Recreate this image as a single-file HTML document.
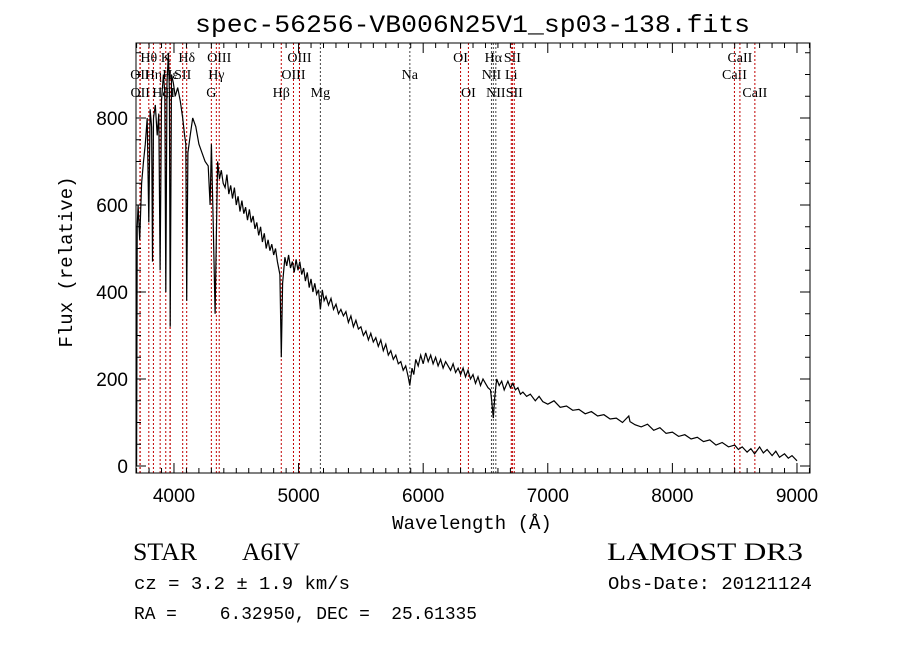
<!DOCTYPE html>
<html><head><meta charset="utf-8"><style>
body{margin:0;background:#fff;}
svg{display:block;}
text{font-family:"Liberation Sans",sans-serif;white-space:pre;}
.mono{font-family:"Liberation Mono",monospace;}
.serif{font-family:"Liberation Serif",serif;}
</style></head><body>
<svg id="chart" width="900" height="649" viewBox="0 0 900 649" xmlns="http://www.w3.org/2000/svg">
<rect width="900" height="649" fill="#fff"/>
<text x="195" y="32" textLength="555" lengthAdjust="spacingAndGlyphs" class="mono" font-size="25" fill="#000">spec-56256-VB006N25V1_sp03-138.fits</text>
<g id="lines"></g>
<g id="axes"></g>
<path id="spec" fill="none" stroke="#000" stroke-width="1.2"/>
<text x="472" y="529" text-anchor="middle" class="mono" font-size="19">Wavelength (Å)</text>
<text transform="translate(72,262) rotate(-90)" text-anchor="middle" class="mono" font-size="19">Flux (relative)</text>
<text x="133" y="560" textLength="64" lengthAdjust="spacingAndGlyphs" class="serif" font-size="25">STAR</text>
<text x="242" y="560" textLength="58" lengthAdjust="spacingAndGlyphs" class="serif" font-size="25">A6IV</text>
<text x="607" y="560" textLength="196" lengthAdjust="spacingAndGlyphs" class="serif" font-size="25">LAMOST DR3</text>
<text x="134" y="589" textLength="216" lengthAdjust="spacingAndGlyphs" class="mono" font-size="18">cz = 3.2 ± 1.9 km/s</text>
<text x="608" y="589" textLength="204" lengthAdjust="spacingAndGlyphs" class="mono" font-size="18">Obs-Date: 20121124</text>
<text x="134" y="619" textLength="343" lengthAdjust="spacingAndGlyphs" class="mono" font-size="18">RA =    6.32950, DEC =  25.61335</text>
</svg>
<script>
const waves=[3700,3705,3712,3725,3740,3755,3770,3785,3798,3808,3820,3828,3836,3850,3865,3878,3889,3900,3915,3926,3934,3944,3955,3963,3970,3980,3995,4010,4030,4050,4070,4085,4095,4102,4112,4130,4150,4175,4200,4225,4250,4275,4290,4300,4315,4330,4340,4350,4365,4380,4395,4410,4425,4440,4455,4470,4485,4500,4515,4530,4545,4560,4575,4590,4605,4620,4635,4650,4665,4680,4695,4710,4725,4740,4755,4770,4785,4800,4815,4830,4850,4861,4872,4890,4905,4920,4935,4950,4965,4980,4995,5010,5025,5040,5055,5070,5085,5100,5115,5130,5145,5160,5175,5190,5205,5220,5240,5260,5280,5300,5320,5340,5360,5380,5400,5420,5440,5460,5480,5500,5520,5540,5560,5580,5600,5620,5640,5660,5680,5700,5720,5740,5760,5780,5800,5820,5840,5860,5880,5893,5910,5925,5940,5960,5980,6000,6020,6040,6060,6080,6100,6120,6140,6160,6180,6200,6220,6240,6260,6280,6300,6320,6340,6360,6380,6400,6420,6440,6460,6480,6500,6520,6540,6550,6563,6575,6590,6610,6630,6650,6680,6700,6720,6740,6760,6780,6800,6830,6860,6900,6930,6960,7000,7050,7100,7150,7200,7250,7300,7350,7400,7450,7500,7550,7600,7650,7660,7700,7750,7800,7850,7900,7950,8000,8050,8100,8150,8200,8250,8300,8350,8400,8450,8500,8530,8560,8600,8630,8660,8700,8730,8760,8800,8830,8860,8900,8930,8960,9000];
const flux=[0,550,600,520,650,700,740,800,560,820,780,470,800,830,760,810,450,840,900,860,400,880,950,860,320,900,880,850,870,840,800,760,740,380,720,760,800,780,740,720,700,690,600,740,560,350,520,700,660,680,650,640,670,625,645,615,640,600,620,585,610,580,595,565,590,560,575,545,560,530,550,515,535,500,520,495,510,485,500,470,440,250,420,480,460,485,455,470,445,475,450,470,440,455,425,445,410,430,400,420,395,405,360,405,380,390,370,385,360,372,350,360,345,355,330,345,320,335,315,320,300,310,290,305,285,295,275,290,265,280,255,265,245,255,235,240,220,230,205,185,225,210,245,230,255,235,260,240,255,235,250,230,245,225,240,230,220,235,215,225,210,225,205,220,200,210,190,205,185,200,190,180,175,150,110,160,200,185,195,175,195,180,190,175,180,165,170,160,165,150,160,148,142,150,135,138,128,130,120,125,115,118,108,110,100,115,102,95,90,96,82,88,75,78,68,72,62,66,56,60,48,54,44,48,38,44,32,40,28,44,30,38,24,34,20,28,18,24,12];
const lineWaves=[3727,3729,3798,3835,3889,3934,3968,3970,4070,4102,4300,4340,4363,4861,4959,5007,5175,5893,6300,6363,6548,6563,6583,6707,6716,6731,8498,8542,8662];
const lineLabels=["OII","OII","Hθ","Hη","Hζ","K","H","Hε","SII","Hδ","G","Hγ","OIII","Hβ","OIII","OIII","Mg","Na","OI","OI","NII","Hα","NII","Li","SII","SII","CaII","CaII","CaII"];
const lineRows=[2,3,1,2,3,1,3,2,2,1,3,2,1,3,2,1,3,2,1,3,2,1,3,2,1,3,2,1,3];
const xTicks=[4000,5000,6000,7000,8000,9000];
const yTicks=[0,200,400,600,800];
const X0=136.6,XA=0.1246,W0=3700,Y0=466,YA=0.435;
const L=136,R=810,T=43,B=473;
const sx=w=>X0+(w-W0)*XA, sy=f=>Y0-f*YA;
const NS="http://www.w3.org/2000/svg";
function mk(tag,parent,attrs){const e=document.createElementNS(NS,tag);for(const k in attrs)e.setAttribute(k,attrs[k]);parent.appendChild(e);return e;}
const lg=document.getElementById('lines');
const rowY={1:62,2:79,3:97};
lineWaves.forEach((w,i)=>{
 const x=sx(w);
 const dark=(w>=6540&&w<=6590)||w===5175||w===5893;
 const ln=mk('line',lg,{x1:x,x2:x,y1:T,y2:B,stroke:dark?'#444':'#c00000','stroke-width':1,'stroke-dasharray':'2,2'});
 
 
 const t=mk('text',lg,{x:x,y:rowY[lineRows[i]],'text-anchor':'middle','font-size':14,class:'serif'});
 t.textContent=lineLabels[i];
 
 
});
const ax=document.getElementById('axes');
const fr=mk('rect',ax,{x:L,y:T,width:R-L,height:B-T,fill:'none',stroke:'#000','stroke-width':1});


for(let w=3700;w<=9100;w+=100){const x=sx(w);const mj=w%1000===0;const len=mj?10:5;
 mk('line',ax,{x1:x,x2:x,y1:B,y2:B-len,stroke:'#000'});mk('line',ax,{x1:x,x2:x,y1:T,y2:T+len,stroke:'#000'});}
for(let f=0;f<=950;f+=50){const y=sy(f);const mj=f%200===0;const len=mj?10:5;
 mk('line',ax,{x1:L,x2:L+len,y1:y,y2:y,stroke:'#000'});mk('line',ax,{x1:R,x2:R-len,y1:y,y2:y,stroke:'#000'});}
xTicks.forEach(w=>{const t=mk('text',ax,{x:sx(w),y:502,'text-anchor':'middle','font-size':19});t.textContent=w;
 
 });
yTicks.forEach(f=>{const t=mk('text',ax,{x:128,y:sy(f)+7,'text-anchor':'end','font-size':19});t.textContent=f;
 
 });
let d='';waves.forEach((w,i)=>{d+=(i?'L':'M')+sx(w).toFixed(1)+','+sy(flux[i]).toFixed(1);});
document.getElementById('spec').setAttribute('d',d);
</script>
</body></html>
